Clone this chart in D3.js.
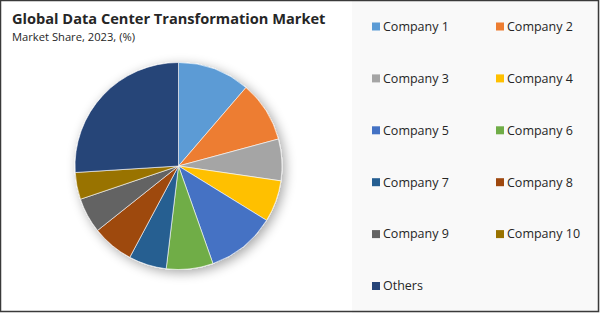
<!DOCTYPE html>
<html>
<head>
<meta charset="utf-8">
<script src="https://cdn.jsdelivr.net/npm/d3@7"></script>
<style>
  html, body { margin: 0; padding: 0; background: #fff; }
  svg { display: block; }
</style>
</head>
<body>
<div id="chart"></div>
<script>
// Data
const categories = ['Company 1', 'Company 2', 'Company 3', 'Company 4', 'Company 5',
  'Company 6', 'Company 7', 'Company 8', 'Company 9', 'Company 10', 'Others'];
const shares = [11.3, 9.5, 6.5, 6.5, 10.8, 7.3, 5.9, 6.5, 5.5, 4.2, 26.0];
const colors = ['#5b9bd5', '#ed7d31', '#a5a5a5', '#ffc000', '#4472c4', '#70ad47',
  '#255e91', '#9e480e', '#636363', '#997300', '#264478'];

const data = categories.map((name, i) => ({ name, value: shares[i] }));

const width = 600;
const height = 313;

const svg = d3
  .select('#chart')
  .append('svg')
  .attr('width', width)
  .attr('height', height);

// shadow behind the pie
const defs = svg.append('defs');
const filter = defs.append('filter')
  .attr('id', 'shadow')
  .attr('x', '-30%').attr('y', '-30%')
  .attr('width', '160%').attr('height', '160%');
filter.append('feGaussianBlur').attr('in', 'SourceAlpha').attr('stdDeviation', 6);
filter.append('feOffset').attr('dx', 3).attr('dy', 3).attr('result', 'blur');
filter.append('feComponentTransfer').append('feFuncA').attr('type', 'linear').attr('slope', 0.35);
const merge = filter.append('feMerge');
merge.append('feMergeNode');
merge.append('feMergeNode').attr('in', 'SourceGraphic');

// legend panel background
svg.append('rect')
  .attr('x', 352).attr('y', 0)
  .attr('width', width - 352).attr('height', height)
  .attr('fill', '#f9f9f9');

// Title
svg.append('text')
  .attr('x', 12).attr('y', 24)
  .attr('font-family', 'Open Sans, sans-serif')
  .attr('font-weight', 'bold')
  .attr('font-size', 14.6)
  .attr('fill', '#262626')
  .text('Global Data Center Transformation Market');

svg.append('text')
  .attr('x', 12).attr('y', 41)
  .attr('font-family', 'Open Sans, sans-serif')
  .attr('font-size', 11.2)
  .attr('fill', '#262626')
  .text('Market Share, 2023, (%)');

// Pie
const cx = 178.5, cy = 166, radius = 103.5;

const pie = d3.pie().sort(null).value((d) => d.value);
const arc = d3.arc().innerRadius(0).outerRadius(radius);
const color = d3.scaleOrdinal().domain(categories).range(colors);

const pieG = svg.append('g')
  .attr('transform', `translate(${cx},${cy})`)
  .attr('filter', 'url(#shadow)');

pieG.selectAll('path')
  .data(pie(data))
  .enter()
  .append('path')
  .attr('d', arc)
  .attr('fill', (d) => color(d.data.name))
  .attr('stroke', '#ffffff')
  .attr('stroke-width', 0.6);

// Legend, two columns
const legendX = d3.scalePoint().domain([0, 1]).range([372, 496]);
const legendY = d3.scaleLinear().domain([0, 5]).range([26.5, 286]);

const legend = svg.append('g');
const items = legend.selectAll('g')
  .data(data)
  .enter()
  .append('g')
  .attr('transform', (d, i) => `translate(${legendX(i % 2)},${legendY(Math.floor(i / 2))})`);

items.append('rect')
  .attr('x', 0).attr('y', -4)
  .attr('width', 8).attr('height', 8)
  .attr('fill', (d) => color(d.name));

items.append('text')
  .attr('x', 11).attr('y', 0)
  .attr('dy', '0.35em')
  .attr('font-family', 'Open Sans, sans-serif')
  .attr('font-size', 12.5)
  .attr('fill', '#262626')
  .text((d) => d.name);

// outer frame
svg.append('rect')
  .attr('x', 0.5).attr('y', 0.5)
  .attr('width', width - 2).attr('height', height - 2)
  .attr('fill', 'none')
  .attr('stroke', '#3a3a3a')
  .attr('stroke-width', 1.5);
</script>
</body>
</html>
